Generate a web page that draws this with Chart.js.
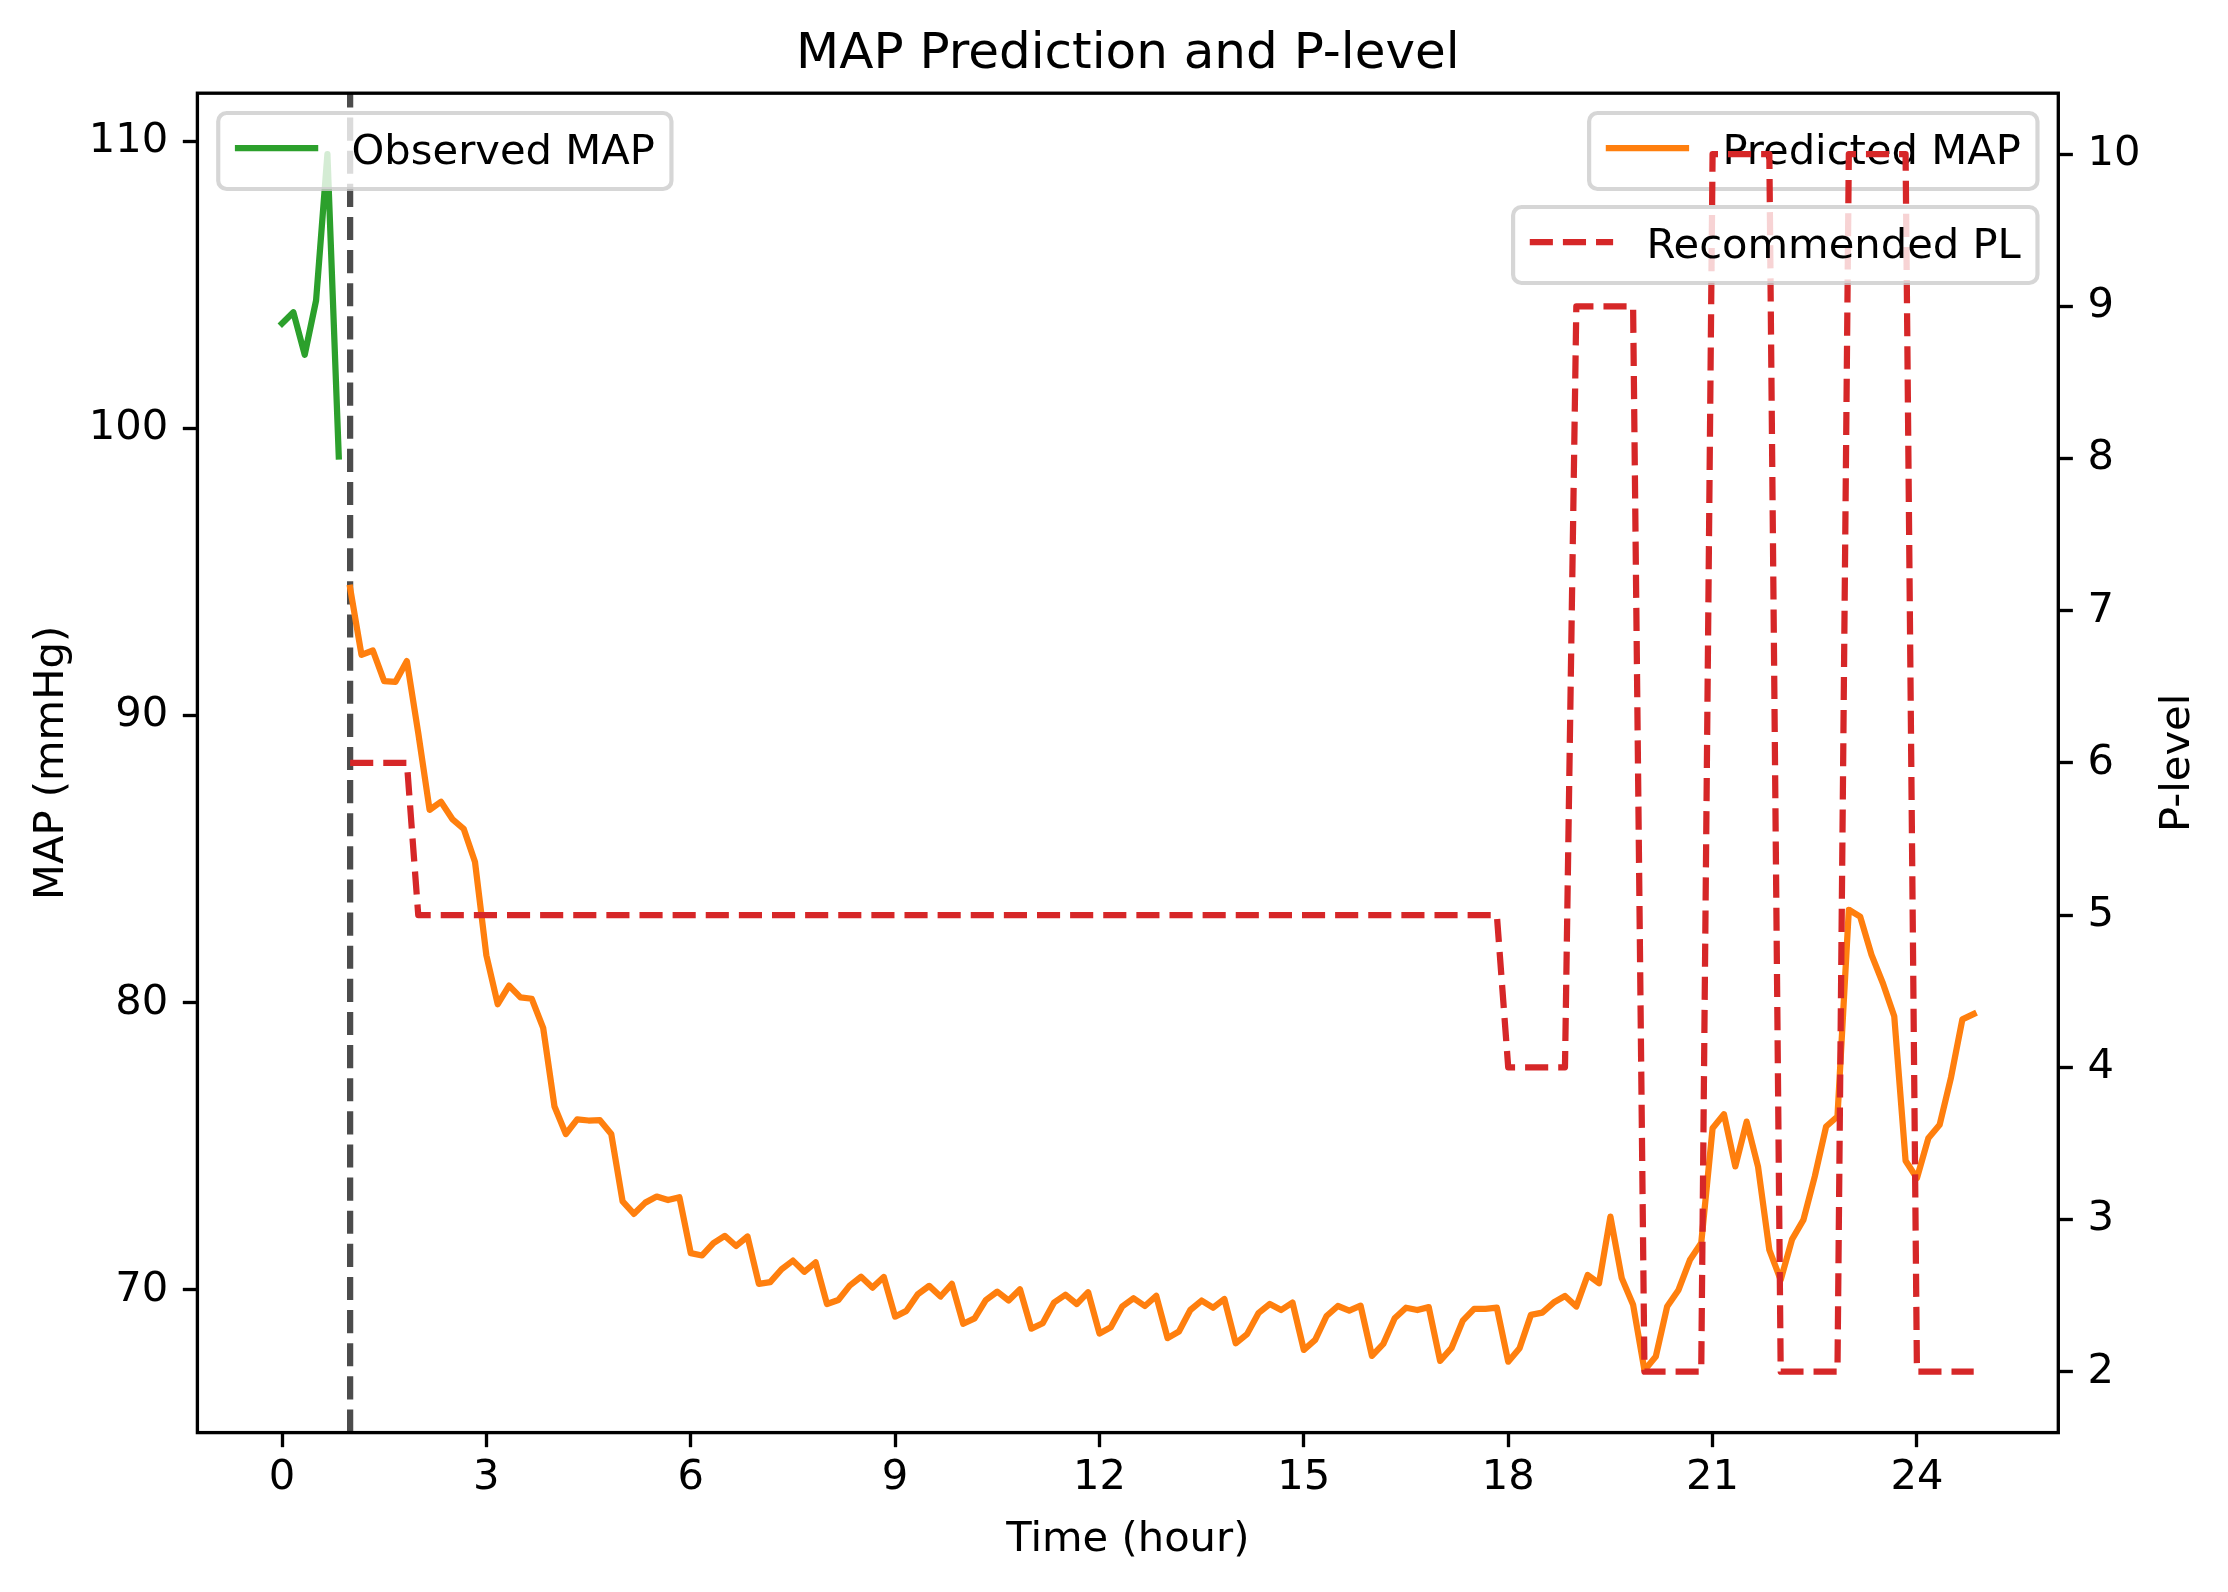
<!DOCTYPE html>
<html>
<head>
<meta charset="utf-8">
<script src="https://cdn.jsdelivr.net/npm/chart.js@4.4.1/dist/chart.umd.min.js"></script>
<style>
html,body{margin:0;padding:0;background:#ffffff;}
#wrap{width:2228px;height:1592px;}
canvas{display:block;}
</style>
</head>
<body>
<div id="wrap"><canvas id="c" width="2228" height="1592"></canvas></div>
<script>
// ---------------- DATA ----------------
const observedTime = [0, 0.1667, 0.3333, 0.5, 0.6667, 0.8333];
const observedMAP  = [103.66, 104.05, 102.57, 104.46, 109.56, 99.03];

const predTime = [
  1, 1.1667, 1.3333, 1.5, 1.6667, 1.8333,
  2, 2.1667, 2.3333, 2.5, 2.6667, 2.8333,
  3, 3.1667, 3.3333, 3.5, 3.6667, 3.8333,
  4, 4.1667, 4.3333, 4.5, 4.6667, 4.8333,
  5, 5.1667, 5.3333, 5.5, 5.6667, 5.8333,
  6, 6.1667, 6.3333, 6.5, 6.6667, 6.8333,
  7, 7.1667, 7.3333, 7.5, 7.6667, 7.8333,
  8, 8.1667, 8.3333, 8.5, 8.6667, 8.8333,
  9, 9.1667, 9.3333, 9.5, 9.6667, 9.8333,
  10, 10.1667, 10.3333, 10.5, 10.6667, 10.8333,
  11, 11.1667, 11.3333, 11.5, 11.6667, 11.8333,
  12, 12.1667, 12.3333, 12.5, 12.6667, 12.8333,
  13, 13.1667, 13.3333, 13.5, 13.6667, 13.8333,
  14, 14.1667, 14.3333, 14.5, 14.6667, 14.8333,
  15, 15.1667, 15.3333, 15.5, 15.6667, 15.8333,
  16, 16.1667, 16.3333, 16.5, 16.6667, 16.8333,
  17, 17.1667, 17.3333, 17.5, 17.6667, 17.8333,
  18, 18.1667, 18.3333, 18.5, 18.6667, 18.8333,
  19, 19.1667, 19.3333, 19.5, 19.6667, 19.8333,
  20, 20.1667, 20.3333, 20.5, 20.6667, 20.8333,
  21, 21.1667, 21.3333, 21.5, 21.6667, 21.8333,
  22, 22.1667, 22.3333, 22.5, 22.6667, 22.8333,
  23, 23.1667, 23.3333, 23.5, 23.6667, 23.8333,
  24, 24.1667, 24.3333, 24.5, 24.6667, 24.8333
];

const predMAP = [
  94.45, 92.12, 92.27, 91.20, 91.18, 91.90,
  89.40, 86.72, 87.00, 86.40, 86.06, 84.90,
  81.65, 79.95, 80.60, 80.19, 80.14, 79.13,
  76.39, 75.43, 75.94, 75.90, 75.91, 75.43,
  73.08, 72.65, 73.04, 73.25, 73.13, 73.23,
  71.28, 71.20, 71.63, 71.88, 71.53, 71.86,
  70.21, 70.27, 70.72, 71.02, 70.63, 70.96,
  69.51, 69.65, 70.15, 70.46, 70.08, 70.45,
  69.07, 69.27, 69.85, 70.14, 69.77, 70.21,
  68.82, 69.01, 69.65, 69.94, 69.63, 70.02,
  68.65, 68.84, 69.56, 69.83, 69.51, 69.92,
  68.48, 68.70, 69.42, 69.71, 69.44, 69.79,
  68.32, 68.55, 69.30, 69.63, 69.38, 69.68,
  68.14, 68.46, 69.19, 69.51, 69.30, 69.56,
  67.91, 68.26, 69.09, 69.44, 69.28, 69.45,
  67.70, 68.12, 69.01, 69.38, 69.30, 69.40,
  67.53, 67.97, 68.93, 69.34, 69.34, 69.38,
  67.50, 67.97, 69.13, 69.21, 69.56, 69.79,
  69.42, 70.52, 70.23, 72.55, 70.41, 69.48,
  67.20, 67.68, 69.42, 70.00, 71.04, 71.63,
  75.63, 76.12, 74.30, 75.86, 74.30, 71.39,
  70.35, 71.76, 72.44, 73.95, 75.69, 76.04,
  83.24, 83.00, 81.67, 80.68, 79.53, 74.50,
  73.89, 75.28, 75.75, 77.40, 79.42, 79.61
];

const recommendedPL = [
  6, 6, 6, 6, 6, 6,
  5, 5, 5, 5, 5, 5,
  5, 5, 5, 5, 5, 5,
  5, 5, 5, 5, 5, 5,
  5, 5, 5, 5, 5, 5,
  5, 5, 5, 5, 5, 5,
  5, 5, 5, 5, 5, 5,
  5, 5, 5, 5, 5, 5,
  5, 5, 5, 5, 5, 5,
  5, 5, 5, 5, 5, 5,
  5, 5, 5, 5, 5, 5,
  5, 5, 5, 5, 5, 5,
  5, 5, 5, 5, 5, 5,
  5, 5, 5, 5, 5, 5,
  5, 5, 5, 5, 5, 5,
  5, 5, 5, 5, 5, 5,
  5, 5, 5, 5, 5, 5,
  4, 4, 4, 4, 4, 4,
  9, 9, 9, 9, 9, 9,
  2, 2, 2, 2, 2, 2,
  10, 10, 10, 10, 10, 10,
  2, 2, 2, 2, 2, 2,
  10, 10, 10, 10, 10, 10,
  2, 2, 2, 2, 2, 2
];

const predictionStart = 1;
const xTicks = [0, 3, 6, 9, 12, 15, 18, 21, 24];
const xTickLabels = ['0', '3', '6', '9', '12', '15', '18', '21', '24'];
const mapTicks = [70, 80, 90, 100, 110];
const mapTickLabels = ['70', '80', '90', '100', '110'];
const plTicks = [2, 3, 4, 5, 6, 7, 8, 9, 10];
const plTickLabels = ['2', '3', '4', '5', '6', '7', '8', '9', '10'];

const titleText = 'MAP Prediction and P-level';
const xLabelText = 'Time (hour)';
const yLabelText = 'MAP (mmHg)';
const y2LabelText = 'P-level';

// ---------------- STYLE ----------------
const PT = 300 / 72;
const FS = 10 * PT;
const FAM = '"DejaVu Sans", "Liberation Sans", sans-serif';
const LW = 1.5 * PT;
const DASH = [3.7 * LW, 1.6 * LW];
const C_GREEN = '#2ca02c', C_ORANGE = '#ff7f0e', C_RED = '#d62728';

function legendBox(ctx, o) {
  ctx.save();
  ctx.font = FS + 'px ' + FAM;
  const tw = ctx.measureText(o.label).width;
  const pad = 0.4 * FS, hl = 2 * FS, htp = 0.8 * FS;
  const w = pad + hl + htp + tw + pad;
  const h = 76;
  const x0 = (o.left !== undefined) ? o.left : o.right - w;
  const y0 = o.top;
  const r = 0.2 * FS;
  ctx.beginPath();
  ctx.moveTo(x0 + r, y0);
  ctx.lineTo(x0 + w - r, y0);
  ctx.arcTo(x0 + w, y0, x0 + w, y0 + r, r);
  ctx.lineTo(x0 + w, y0 + h - r);
  ctx.arcTo(x0 + w, y0 + h, x0 + w - r, y0 + h, r);
  ctx.lineTo(x0 + r, y0 + h);
  ctx.arcTo(x0, y0 + h, x0, y0 + h - r, r);
  ctx.lineTo(x0, y0 + r);
  ctx.arcTo(x0, y0, x0 + r, y0, r);
  ctx.closePath();
  ctx.fillStyle = 'rgba(255,255,255,0.8)';
  ctx.fill();
  ctx.lineWidth = 1 * PT;
  ctx.strokeStyle = 'rgba(204,204,204,0.8)';
  ctx.stroke();
  // handle
  ctx.beginPath();
  ctx.setLineDash(o.dash || []);
  ctx.lineCap = o.dash ? 'butt' : 'square';
  ctx.lineWidth = LW;
  ctx.strokeStyle = o.color;
  const hy = y0 + 35;
  ctx.moveTo(x0 + pad + (o.dash ? 0 : LW / 2), hy);
  ctx.lineTo(x0 + pad + hl - (o.dash ? 0 : LW / 2), hy);
  ctx.stroke();
  ctx.setLineDash([]);
  ctx.fillStyle = '#000';
  ctx.textBaseline = 'alphabetic';
  ctx.textAlign = 'left';
  ctx.fillText(o.label, x0 + pad + hl + htp, y0 + 51);
  ctx.restore();
}

const decorations = {
  id: 'decorations',
  beforeDatasetsDraw(chart) {
    const ctx = chart.ctx, a = chart.chartArea;
    const x = chart.scales.x.getPixelForValue(predictionStart);
    ctx.save();
    ctx.beginPath();
    ctx.rect(a.left, a.top, a.right - a.left, a.bottom - a.top);
    ctx.clip();
    ctx.beginPath();
    ctx.setLineDash(DASH);
    ctx.lineWidth = LW;
    ctx.lineCap = 'butt';
    ctx.strokeStyle = 'rgba(0,0,0,0.7)';
    ctx.moveTo(x, a.bottom);
    ctx.lineTo(x, a.top);
    ctx.stroke();
    ctx.restore();
  },
  beforeDatasetDraw(chart, args) {
    if (args.index !== 2) return;
    const ctx = chart.ctx, a = chart.chartArea;
    const off = 0.5 * FS;
    legendBox(ctx, {left: a.left + off, top: a.top + off - 1, label: 'Observed MAP', color: C_GREEN});
    legendBox(ctx, {right: a.right - off, top: a.top + off - 1, label: 'Predicted MAP', color: C_ORANGE});
  },
  afterDatasetsDraw(chart) {
    const ctx = chart.ctx, a = chart.chartArea;
    const off = 0.5 * FS;
    legendBox(ctx, {right: a.right - off, top: 207, label: 'Recommended PL', color: C_RED, dash: DASH});
    // spines
    ctx.save();
    ctx.lineWidth = 0.8 * PT;
    ctx.strokeStyle = '#000';
    ctx.lineJoin = 'miter';
    ctx.strokeRect(a.left, a.top, a.right - a.left, a.bottom - a.top);
    // title
    ctx.fillStyle = '#000';
    ctx.textAlign = 'center';
    ctx.textBaseline = 'alphabetic';
    ctx.font = (12 * PT) + 'px ' + FAM;
    const cx = (a.left + a.right) / 2;
    ctx.fillText(titleText, cx, a.top - 6 * PT);
    // x label
    ctx.font = FS + 'px ' + FAM;
    ctx.fillText(xLabelText, cx, 1551);
    // y labels
    const cy = (a.top + a.bottom) / 2;
    ctx.save();
    ctx.translate(63, cy);
    ctx.rotate(-Math.PI / 2);
    ctx.fillText(yLabelText, 0, 0);
    ctx.restore();
    ctx.save();
    ctx.translate(2189, cy);
    ctx.rotate(-Math.PI / 2);
    ctx.fillText(y2LabelText, 0, 0);
    ctx.restore();
    ctx.restore();
  }
};

const tickFont = {family: FAM, size: FS};
const gridOpts = {display: true, drawOnChartArea: false, drawTicks: true, tickLength: 3.5 * PT, tickWidth: 0.8 * PT, tickColor: '#000'};

new Chart(document.getElementById('c'), {
  type: 'line',
  data: {
    datasets: [
      {
        label: 'Observed MAP',
        data: observedTime.map((t, i) => ({x: t, y: observedMAP[i]})),
        borderColor: C_GREEN, backgroundColor: C_GREEN, borderWidth: LW,
        pointRadius: 0, tension: 0, borderJoinStyle: 'round', borderCapStyle: 'square',
        yAxisID: 'y', order: 2
      },
      {
        label: 'Predicted MAP',
        data: predTime.map((t, i) => ({x: t, y: predMAP[i]})),
        borderColor: C_ORANGE, backgroundColor: C_ORANGE, borderWidth: LW,
        pointRadius: 0, tension: 0, borderJoinStyle: 'round', borderCapStyle: 'square',
        yAxisID: 'y', order: 1
      },
      {
        label: 'Recommended PL',
        data: predTime.map((t, i) => ({x: t, y: recommendedPL[i]})),
        borderColor: C_RED, backgroundColor: C_RED, borderWidth: LW,
        borderDash: DASH, borderCapStyle: 'butt', borderJoinStyle: 'round',
        pointRadius: 0, tension: 0,
        yAxisID: 'y1', order: 0
      }
    ]
  },
  options: {
    responsive: false,
    animation: false,
    devicePixelRatio: 1,
    layout: {padding: {top: 93.2, left: 0, right: 0, bottom: 0}},
    plugins: {legend: {display: false}, tooltip: {enabled: false}, title: {display: false}},
    scales: {
      x: {
        type: 'linear', position: 'bottom', min: -1.242, max: 26.075,
        afterBuildTicks: s => { s.ticks = xTicks.map(v => ({value: v})); },
        afterFit: s => { s.height = 1592 - 1432.6; },
        ticks: {font: tickFont, color: '#000', padding: 6, maxRotation: 0, autoSkip: false,
                callback: v => xTickLabels[xTicks.indexOf(v)]},
        grid: gridOpts, border: {display: false}
      },
      y: {
        type: 'linear', position: 'left', min: 65.03, max: 111.68,
        afterBuildTicks: s => { s.ticks = mapTicks.map(v => ({value: v})); },
        afterFit: s => { s.width = 197.4; },
        ticks: {font: tickFont, color: '#000', padding: 3.5 * PT, autoSkip: false,
                callback: v => mapTickLabels[mapTicks.indexOf(v)]},
        grid: gridOpts, border: {display: false}
      },
      y1: {
        type: 'linear', position: 'right', min: 1.6, max: 10.4,
        afterBuildTicks: s => { s.ticks = plTicks.map(v => ({value: v})); },
        afterFit: s => { s.width = 2228 - 2058.3; },
        ticks: {font: tickFont, color: '#000', padding: 3.5 * PT, autoSkip: false,
                callback: v => plTickLabels[plTicks.indexOf(v)]},
        grid: gridOpts, border: {display: false}
      }
    }
  },
  plugins: [decorations]
});
</script>
</body>
</html>
